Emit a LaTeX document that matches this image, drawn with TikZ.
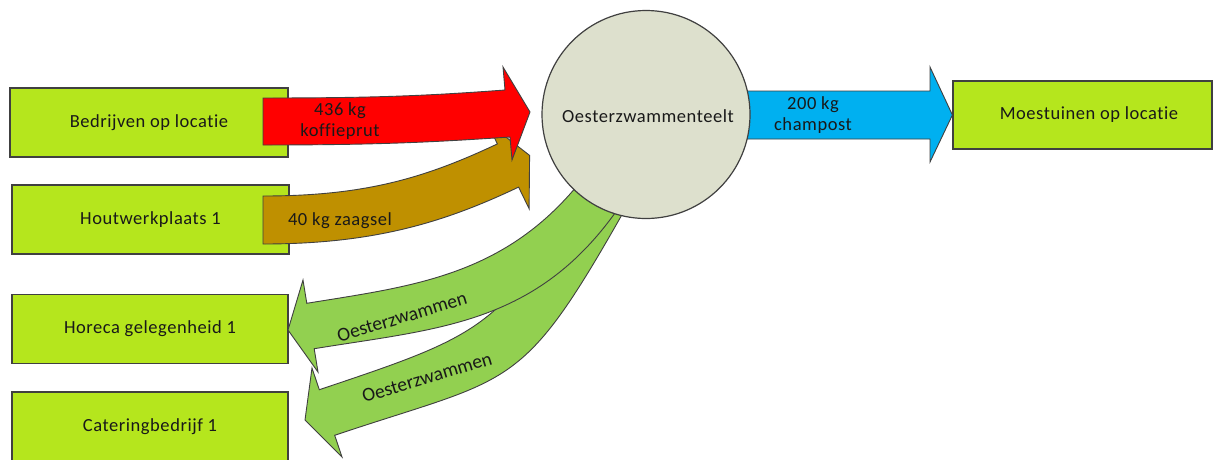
\documentclass[tikz,border=0pt]{standalone}
\usepackage{fontspec}
\setmainfont{Carlito}[LetterSpace=3,Ligatures=NoCommon]
\newfontfamily\plaincarlito{Carlito}[Ligatures=NoCommon]
\definecolor{boxlime}{RGB}{181,230,29}
\definecolor{linegray}{RGB}{64,64,64}
\definecolor{flowred}{RGB}{255,0,0}
\definecolor{flowbrown}{RGB}{191,144,0}
\definecolor{flowblue}{RGB}{0,176,240}
\definecolor{flowgreen}{RGB}{146,208,80}
\definecolor{circfill}{RGB}{221,224,205}
\definecolor{txt}{RGB}{25,25,25}
\begin{document}
\begin{tikzpicture}[x=1pt,y=-1pt,
  lbl/.style={font=\fontsize{18.5}{21}\selectfont, text=txt, align=center, inner sep=0pt},
  rlbl/.style={font=\plaincarlito\fontsize{19.5}{22}\selectfont, text=txt, inner sep=0pt, rotate=16.7},
  box/.style={lbl, draw=linegray, line width=1.2pt, fill=boxlime, minimum height=69pt},
  flow/.style={draw=linegray, line width=0.9pt, line join=miter}]
\clip (0,0) rectangle (1220,459);
\fill[white] (0,0) rectangle (1220,459);
% boxes
\node[box, minimum width=278pt] (b1) at (149,122.5) {Bedrijven op locatie};
\node[box, minimum width=277pt] (b2) at (150.5,219.5) {Houtwerkplaats 1};
\node[box, minimum width=276pt] (b3) at (150,329) {Horeca gelegenheid 1};
\node[box, minimum width=276pt, minimum height=80pt] (b4) at (150,432) {};
\node[lbl] (b4t) at (150,426.5) {Cateringbedrijf 1};
\node[box, minimum width=259pt, minimum height=68pt] (moes) at (1082.5,115) {};
\node[lbl] (moest) at (1089,115) {Moestuinen op locatie};
% brown arrow
\path[flow, fill=flowbrown] (263,196) .. controls (365,196) and (425,178) .. (497.4,143.9)
  -- (486.9,122.3) -- (529.6,155.4) -- (529.1,208.7) -- (518.6,187.1)
  .. controls (445,222) and (375,244) .. (263,244) -- cycle;
% red arrow
\path[flow, fill=flowred] (263,98) .. controls (380,98) and (430,95.5) .. (505,90)
  -- (503,67) -- (530,112) -- (512,160) -- (510,137)
  .. controls (435,142) and (380,145) .. (263,145) -- cycle;
% green arrow 2 (to catering)
\path[flow, fill=flowgreen] (586.1,181.1) .. controls (502.8,329) and (480.5,335.5) .. (319.3,389.7)
  -- (312,368) -- (305,420) -- (342,457) -- (334.7,435.3)
  .. controls (514.8,374.7) and (520.2,395.4) .. (628,204) -- cycle;
% green arrow 1 (to horeca)
\path[flow, fill=flowgreen] (588,172) .. controls (510,276) and (415.4,285.6) .. (306.8,303.3)
  -- (303,280) -- (288,330) -- (318,372) -- (314.2,348.7)
  .. controls (442.5,327.8) and (541.5,324.5) .. (624,200) -- cycle;
% blue arrow
\path[flow, fill=flowblue] (738,91) -- (930,91) -- (930,67) -- (moes.west) -- (930,162) -- (930,139) -- (738,139) -- cycle;
% circle
\node[lbl, circle, draw=linegray, line width=1.2pt, fill=circfill, minimum size=208pt] (teelt) at (646,114.5) {};
\node[lbl] (teeltt) at (648,116) {Oesterzwammenteelt};
% labels
\node[lbl] (l1) at (340,121.5) {436 kg\\koffieprut};
\node[lbl] (l2) at (340,221) {40 kg zaagsel};
\node[lbl] (l3) at (813,115.5) {200 kg\\champost};
\node[rlbl] (l4) at (402,317) {Oesterzwammen};
\node[rlbl] (l5) at (427,377.5) {Oesterzwammen};
\end{tikzpicture}
\end{document}
